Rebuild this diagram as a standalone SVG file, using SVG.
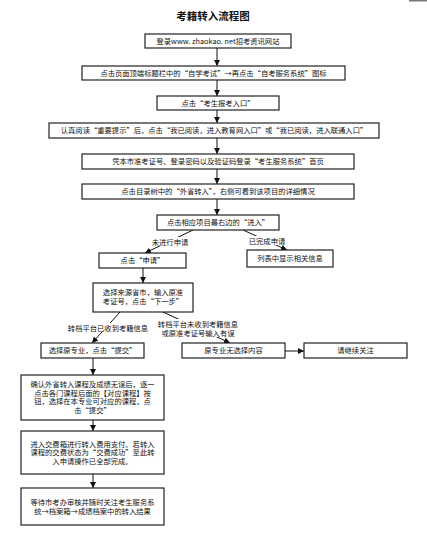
<svg xmlns="http://www.w3.org/2000/svg" width="427" height="554" viewBox="0 0 427 554">
<defs>
<style>
.box{fill:#fff;stroke:#222;stroke-width:1.2}
.t{font-family:"Noto Sans CJK SC","Noto Sans",sans-serif;font-size:7.3px;fill:#111;text-anchor:middle}
.title{font-family:"Noto Sans CJK SC",sans-serif;font-size:10.5px;font-weight:bold;fill:#111;text-anchor:middle}
.ln{stroke:#111;stroke-width:1;fill:none}
.lb{fill:#fff}
</style>
<marker id="ah" viewBox="0 0 10 10" refX="10" refY="5" markerWidth="6" markerHeight="6" markerUnits="userSpaceOnUse" orient="auto">
<path d="M0,0 L10,5 L0,10 z" fill="#111"/>
</marker>
</defs>
<rect width="427" height="554" fill="#fff"/>
<rect x="409" y="0" width="18" height="1.5" fill="#777"/>
<text class="title" x="213" y="20">考籍转入流程图</text>

<g id="connectors">
<line class="ln" x1="217" y1="48" x2="217" y2="66" marker-end="url(#ah)"/>
<line class="ln" x1="217" y1="80" x2="217" y2="96" marker-end="url(#ah)"/>
<line class="ln" x1="217" y1="110" x2="217" y2="123" marker-end="url(#ah)"/>
<line class="ln" x1="217" y1="138" x2="217" y2="154" marker-end="url(#ah)"/>
<line class="ln" x1="217" y1="169" x2="217" y2="184" marker-end="url(#ah)"/>
<line class="ln" x1="217" y1="199" x2="217" y2="215" marker-end="url(#ah)"/>
<line class="ln" x1="193" y1="230" x2="145" y2="253" marker-end="url(#ah)"/>
<line class="ln" x1="243" y1="230" x2="287" y2="250" marker-end="url(#ah)"/>
<line class="ln" x1="143" y1="268" x2="143" y2="283" marker-end="url(#ah)"/>
<line class="ln" x1="120" y1="312" x2="92" y2="343" marker-end="url(#ah)"/>
<line class="ln" x1="163" y1="312" x2="230" y2="343" marker-end="url(#ah)"/>
<line class="ln" x1="285" y1="351" x2="304" y2="351" marker-end="url(#ah)"/>
<line class="ln" x1="93" y1="358" x2="93" y2="375" marker-end="url(#ah)"/>
<line class="ln" x1="93" y1="420" x2="93" y2="431" marker-end="url(#ah)"/>
<line class="ln" x1="93" y1="474" x2="93" y2="488" marker-end="url(#ah)"/>
<rect class="lb" x="151" y="237" width="38" height="9"/>
<text class="t" x="170" y="244.6">未进行申请</text>
<rect class="lb" x="248" y="236" width="38" height="9"/>
<text class="t" x="267" y="243.6">已完成申请</text>
<rect class="lb" x="67" y="323" width="82" height="9"/>
<text class="t" x="108" y="330.6">转档平台已收到考籍信息</text>
<rect class="lb" x="157" y="319" width="82" height="18"/>
<text class="t" x="198" y="326.6">转档平台未收到考籍信息</text>
<text class="t" x="198" y="335.6">或原准考证号输入有误</text>
</g>

<g id="n1"><rect class="box" x="145" y="34" width="146" height="14"/><text class="t" x="218" y="43.6">登录www. zhaokao. net招考资讯网站</text></g>
<g id="n2"><rect class="box" x="82" y="66" width="263" height="14"/><text class="t" x="213.5" y="75.6">点击页面顶端标题栏中的“自学考试”→再点击“自考服务系统”图标</text></g>
<g id="n3"><rect class="box" x="157" y="96" width="122" height="14"/><text class="t" x="218" y="105.6">点击“考生报考入口”</text></g>
<g id="n4"><rect class="box" x="49" y="123" width="330" height="15"/><text class="t" x="214" y="133.1">认真阅读“重要提示”后，点击“我已阅读，进入教育网入口”或“我已阅读，进入联通入口”</text></g>
<g id="n5"><rect class="box" x="82" y="154" width="272" height="15"/><text class="t" x="218" y="164.1">凭本市准考证号、登录密码以及验证码登录“考生服务系统”首页</text></g>
<g id="n6"><rect class="box" x="82" y="184" width="272" height="15"/><text class="t" x="218" y="194.1">点击目录树中的“外省转入”，右侧可看到该项目的详细情况</text></g>
<g id="n7"><rect class="box" x="157" y="215" width="122" height="15"/><text class="t" x="218" y="225.1">点击相应项目最右边的“进入”</text></g>
<g id="n8"><rect class="box" x="99" y="253" width="87" height="15"/><text class="t" x="142.5" y="263.1">点击“申请”</text></g>
<g id="n9"><rect class="box" x="247" y="250" width="86" height="17"/><text class="t" x="290" y="261.1">列表中显示相关信息</text></g>
<g id="n10"><rect class="box" x="93" y="283" width="100" height="29"/><text class="t" x="143" y="294.6">选择来源省市，输入原准</text><text class="t" x="143" y="304.1">考证号，点击“下一步”</text></g>
<g id="n11"><rect class="box" x="41" y="343" width="103" height="15"/><text class="t" x="92.5" y="353.1">选择原专业，点击“提交”</text></g>
<g id="n12"><rect class="box" x="182" y="343" width="103" height="15"/><text class="t" x="233.5" y="353.1">原专业无选择内容</text></g>
<g id="n13"><rect class="box" x="304" y="343" width="103" height="15"/><text class="t" x="355.5" y="353.1">请继续关注</text></g>
<g id="n14"><rect class="box" x="21" y="375" width="143" height="45"/>
<text class="t" x="92.5" y="387.3">确认外省转入课程及成绩无误后，逐一</text>
<text class="t" x="92.5" y="395.8">点击各门课程后面的【对应课程】按</text>
<text class="t" x="92.5" y="404.3">钮，选择在本专业可对应的课程，点</text>
<text class="t" x="92.5" y="412.8">击“提交”</text></g>
<g id="n15"><rect class="box" x="21" y="431" width="143" height="43"/>
<text class="t" x="92.5" y="446.6">进入交费箱进行转入费用支付。若转入</text>
<text class="t" x="92.5" y="455.1">课程的交费状态为“交费成功”至此转</text>
<text class="t" x="92.5" y="463.6">入申请操作已全部完成。</text></g>
<g id="n16"><rect class="box" x="21" y="488" width="143" height="37"/>
<text class="t" x="92.5" y="504.6">等待市考办审核并随时关注考生服务系</text>
<text class="t" x="92.5" y="513.6">统→档案箱→成绩档案中的转入结果</text></g>
</svg>
